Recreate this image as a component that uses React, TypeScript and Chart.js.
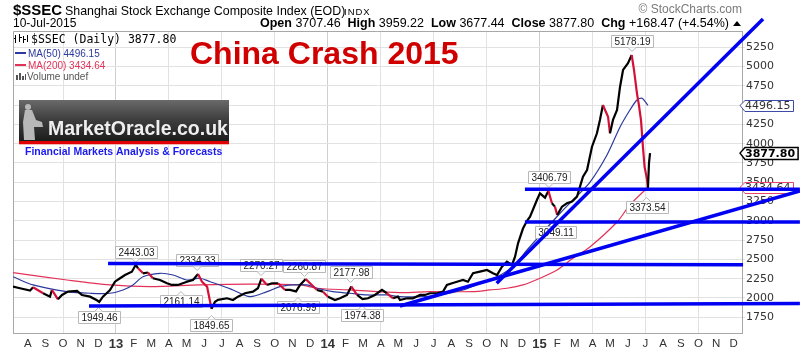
import React, { useEffect, useRef } from 'react';
import { Chart, registerables } from 'chart.js';

Chart.register(...registerables);

const FONT = "'Liberation Sans', Arial, Helvetica, sans-serif";
const VFONT = "'DejaVu Sans', Verdana, sans-serif";
const MFONT = "'DejaVu Sans Mono', monospace";

// x values are months counted from January 2012 (12 = Jan 2013, 24 = Jan 2014, 36 = Jan 2015)
const priceMonths = [
  6.16, 6.56, 7.13, 7.3, 7.87, 8.26, 8.37, 8.71, 8.94, 9.28, 9.79, 10.07, 10.53, 10.92, 11.05, 11.26,
  11.66, 11.94, 12.23, 12.51, 12.9, 13.12, 13.25, 13.53, 13.81, 14.09, 14.49, 14.89, 15.17, 15.51, 16.02,
  16.36, 16.65, 16.87, 17.16, 17.41, 17.61, 17.78, 18.29, 18.63, 18.91, 19.31, 19.76, 20.04, 20.24, 20.56,
  20.84, 21.18, 21.58, 21.86, 22.2, 22.43, 22.75, 23.1, 23.39, 23.73, 24.01, 24.41, 24.69, 25.09, 25.33,
  25.66, 25.97, 26.28, 26.67, 27.07, 27.35, 27.7, 27.98, 28.09, 28.49, 28.83, 29.23, 29.51, 29.79, 30.19,
  30.53, 30.75, 31.04, 31.32, 31.66, 31.94, 32.23, 32.62, 33.02, 33.36, 33.59, 33.87, 34.15, 34.44, 34.61,
  34.78, 35.06, 35.29, 35.46, 35.85, 36.02, 36.31, 36.5, 36.7, 36.87, 37.0, 37.27, 37.55, 37.84, 38.12,
  38.29, 38.46, 38.69, 38.97, 39.25, 39.42, 39.59, 39.71, 39.88, 39.99, 40.16, 40.39, 40.56, 40.73, 41.01,
  41.22, 41.35, 41.52, 41.63, 41.75, 41.86, 41.95, 42.08, 42.14, 42.2, 42.26,
];
const priceCloses = [
  2147, 2126, 2095, 2139, 2061, 2017, 2104, 1983, 2039, 2082, 2091, 2039, 2017, 1970, 1949, 2017,
  2104, 2211, 2256, 2298, 2341, 2430, 2385, 2320, 2330, 2256, 2233, 2191, 2169, 2169, 2211,
  2233, 2310, 2211, 2147, 1860, 1952, 1975, 1996, 1974, 2017, 2061, 2082, 2126, 2250, 2169,
  2191, 2191, 2104, 2104, 2085, 2169, 2245, 2169, 2104, 2082, 2017, 1974, 1996, 2039, 2150,
  2039, 1985, 1996, 2039, 2104, 2061, 1996, 2017, 1974, 1996, 1996, 2039, 2039, 2061, 2061,
  2082, 2169, 2191, 2211, 2233, 2211, 2320, 2341, 2363, 2320, 2298, 2406, 2471, 2428, 2536,
  2709, 2900, 3000, 3054, 3270, 3357, 3300, 3390, 3228, 3184, 3075, 3184, 3228, 3249, 3313,
  3443, 3573, 3659, 3961, 4135, 4308, 4502, 4437, 4350, 4135, 4308, 4437, 4739, 4956, 5043,
  5150, 4956, 4650, 4500, 4300, 3950, 3700, 3550, 3420, 3750, 3877.8,
];

const ma50Months = [
  6.16, 7.3, 9.22, 10.53, 11.66, 12.4, 12.96, 13.53, 14.49, 15.23, 16.02, 16.76, 17.33, 17.89, 18.63,
  19.59, 20.56, 21.29, 22.03, 22.82, 23.39, 24.29, 25.26, 26.22, 27.35, 28.09, 29.23, 30.36, 31.66,
  32.62, 33.59, 34.5, 35.29, 37.16, 37.89, 38.85, 39.82, 40.56, 41.12, 41.52, 41.8, 42.14,
];
const ma50Values = [
  2276, 2169, 2082, 2061, 2061, 2104, 2169, 2276, 2320, 2298, 2233, 2256, 2211, 2169, 2104,
  2017, 2082, 2147, 2169, 2169, 2126, 2082, 2061, 2039, 2039, 2017, 2017, 2039, 2104,
  2191, 2276, 2406, 2622, 3098, 3270, 3500, 3854, 4217, 4437, 4567, 4589, 4496.15,
];

const ma200Months = [
  6.16, 9.22, 11.66, 13.93, 16.76, 19.59, 22.43, 23.39, 25.26, 28.09, 29.79, 32.23, 33.19, 34.15,
  35.06, 36.02, 36.99, 37.89, 38.85, 40.39, 41.12, 42.14,
];
const ma200Values = [
  2328, 2233, 2169, 2147, 2170, 2180, 2169, 2126, 2104, 2069, 2082, 2082, 2104, 2126,
  2169, 2256, 2363, 2515, 2661, 2985, 3206, 3434.64,
];

const monthLetters = ['J', 'F', 'M', 'A', 'M', 'J', 'J', 'A', 'S', 'O', 'N', 'D'];
const yearMonths = [12, 24, 36];
const yearNames = ['13', '14', '15'];
const firstTickMonth = 7;
const lastTickMonth = 47;
const priceTicks = [1750, 2000, 2250, 2500, 2750, 3000, 3250, 3500, 3750, 4000, 4250, 4500, 4750, 5000, 5250];

const calloutMonths = [41.24, 13.12, 16.6, 15.68, 11.01, 17.41, 20.22, 22.68, 22.31, 25.29, 25.94, 36.53, 36.9, 42.06];
const calloutValues = [5178.19, 2443.03, 2334.33, 2161.14, 1949.46, 1849.65, 2270.27, 2260.87, 2076.99, 2177.98, 1974.38, 3406.79, 3049.11, 3373.54];
const calloutTexts = ['5178.19', '2443.03', '2334.33', '2161.14', '1949.46', '1849.65', '2270.27', '2260.87', '2076.99', '2177.98', '1974.38', '3406.79', '3049.11', '3373.54'];
const calloutAbove = [true, true, true, false, false, false, true, true, false, true, false, true, false, false];

const trendStartMonths = [11.55, 10.47, 35.17, 35.17, 28.09, 33.57];
const trendStartValues = [2447, 1896, 3409, 2985, 1896, 2190];
const trendEndMonths = [47.53, 50.75, 50.75, 50.75, 50.75, 48.66];
const trendEndValues = [2430, 1929, 3409, 2985, 3387, 5617];

const headerLabels = ['Open', 'High', 'Low', 'Close', 'Chg'];
const headerValues = ['3707.46', '3959.22', '3677.44', '3877.80', '+168.47 (+4.54%)'];
const lastClose = 3877.8;
const lastMa50 = 4496.15;
const lastMa200 = 3434.64;

const BLUE_MA = '#2b3a9e';
const RED_MA = '#e33259';
const TREND = '#0000f2';

function drawCallout(ctx: CanvasRenderingContext2D, px: number, py: number, text: string, above: boolean) {
  ctx.save();
  ctx.font = `10px ${FONT}`;
  const w = Math.round(ctx.measureText(text).width + 6);
  const h = 12;
  const bx = Math.round(px - w / 2);
  const by = Math.round(above ? py - 6 - h : py + 9);
  ctx.fillStyle = '#ffffff';
  ctx.strokeStyle = '#b8b8b8';
  ctx.lineWidth = 1;
  ctx.beginPath();
  ctx.rect(bx + 0.5, by + 0.5, w, h);
  ctx.fill();
  ctx.stroke();
  ctx.beginPath();
  if (above) {
    ctx.moveTo(px - 4, by + h + 0.5);
    ctx.lineTo(px, by + h + 4.5);
    ctx.lineTo(px + 4, by + h + 0.5);
  } else {
    ctx.moveTo(px - 4, by + 0.5);
    ctx.lineTo(px, by - 3.5);
    ctx.lineTo(px + 4, by + 0.5);
  }
  ctx.fill();
  ctx.stroke();
  ctx.fillStyle = '#222';
  ctx.textAlign = 'center';
  ctx.textBaseline = 'middle';
  ctx.fillText(text, bx + w / 2 + 0.5, by + h / 2 + 1);
  ctx.restore();
}

function drawAxisMarker(ctx: CanvasRenderingContext2D, x: number, y: number, text: string, border: string, bold: boolean) {
  ctx.save();
  ctx.font = `${bold ? 'bold ' : ''}11px ${VFONT}`;
  const w = ctx.measureText(text).width + 8;
  const h = bold ? 12 : 11;
  const top = Math.round(y - h / 2) + 0.5;
  ctx.beginPath();
  ctx.moveTo(x, y);
  ctx.lineTo(x + 5, top);
  ctx.lineTo(x + w, top);
  ctx.lineTo(x + w, top + h);
  ctx.lineTo(x + 5, top + h);
  ctx.closePath();
  ctx.fillStyle = '#fff';
  ctx.fill();
  ctx.strokeStyle = border;
  ctx.lineWidth = bold ? 1.5 : 1;
  ctx.stroke();
  ctx.fillStyle = bold ? '#000' : '#333';
  ctx.textBaseline = 'middle';
  ctx.fillText(text, x + 5, y + 1);
  ctx.restore();
}

function drawHeader(ctx: CanvasRenderingContext2D) {
  ctx.save();
  ctx.textBaseline = 'alphabetic';
  ctx.fillStyle = '#000';
  ctx.font = `bold 15px ${FONT}`;
  ctx.fillText('$SSEC', 13, 15);
  ctx.font = `12.4px ${FONT}`;
  ctx.fillText('Shanghai Stock Exchange Composite Index (EOD)', 65, 15);
  ctx.font = `9.5px ${FONT}`;
  (ctx as any).letterSpacing = '1px';
  ctx.fillText('INDX', 344, 15);
  (ctx as any).letterSpacing = '0px';
  ctx.font = `12px ${FONT}`;
  ctx.fillText('10-Jul-2015', 13, 27);

  // OHLC line, right aligned
  const parts: [string, boolean][] = [];
  headerLabels.forEach((l, i) => {
    parts.push([l + ' ', true]);
    parts.push([headerValues[i] + (i < headerLabels.length - 1 ? '  ' : ''), false]);
  });
  let total = 0;
  parts.forEach(([t, b]) => {
    ctx.font = `${b ? 'bold ' : ''}12.5px ${FONT}`;
    total += ctx.measureText(t).width;
  });
  let x = 729 - total;
  parts.forEach(([t, b]) => {
    ctx.font = `${b ? 'bold ' : ''}12.5px ${FONT}`;
    ctx.fillText(t, x, 27);
    x += ctx.measureText(t).width;
  });
  ctx.beginPath();
  ctx.moveTo(733, 26);
  ctx.lineTo(741, 26);
  ctx.lineTo(737, 21);
  ctx.closePath();
  ctx.fill();

  ctx.fillStyle = '#7a7a7a';
  ctx.font = `12px ${FONT}`;
  ctx.textAlign = 'right';
  ctx.fillText('\u00A9 StockCharts.com', 742, 13);
  ctx.restore();
}

function drawOverlay(ctx: CanvasRenderingContext2D) {
  ctx.save();
  // legend
  ctx.fillStyle = '#000';
  ctx.fillRect(15, 35, 1, 8);
  ctx.fillRect(19, 34, 1, 8);
  ctx.fillRect(23, 36, 1, 7);
  ctx.fillRect(27, 35, 1, 7);
  ctx.fillRect(14, 38, 2, 1);
  ctx.fillRect(20, 37, 2, 1);
  ctx.fillRect(24, 39, 2, 1);
  ctx.font = `11.5px ${MFONT}`;
  ctx.fillText('$SSEC (Daily) 3877.80', 31, 42.5);
  ctx.font = `10px ${FONT}`;
  ctx.fillStyle = BLUE_MA;
  ctx.fillRect(15, 52, 11, 2);
  ctx.fillText('MA(50) 4496.15', 28, 57);
  ctx.fillStyle = RED_MA;
  ctx.fillRect(15, 64, 11, 2);
  ctx.fillText('MA(200) 3434.64', 28, 69);
  ctx.fillStyle = '#555';
  ctx.fillRect(16, 75, 2, 5);
  ctx.fillRect(19, 73, 2, 7);
  ctx.fillRect(22, 76, 2, 4);
  ctx.fillRect(25, 74, 1, 6);
  ctx.fillText('Volume undef', 27, 80);

  // title
  ctx.fillStyle = '#d10000';
  ctx.font = `bold 32px ${FONT}`;
  ctx.fillText('China Crash 2015', 190, 64);

  // logo
  const g = ctx.createLinearGradient(0, 100, 0, 141);
  g.addColorStop(0, '#6a6a6a');
  g.addColorStop(0.45, '#404040');
  g.addColorStop(1, '#1c1c1c');
  ctx.fillStyle = g;
  ctx.fillRect(19, 100, 210, 41);
  ctx.fillStyle = '#e00000';
  ctx.fillRect(19, 141, 210, 3);
  ctx.fillStyle = '#f3b5b5';
  ctx.fillRect(19, 144, 210, 1);
  // statue silhouette
  ctx.fillStyle = '#b8b8b8';
  ctx.beginPath();
  ctx.arc(28, 107, 3, 0, Math.PI * 2);
  ctx.fill();
  ctx.beginPath();
  ctx.moveTo(25, 110);
  ctx.lineTo(32, 110);
  ctx.lineTo(36, 120);
  ctx.lineTo(42, 122);
  ctx.lineTo(43, 127);
  ctx.lineTo(34, 127);
  ctx.lineTo(35, 140);
  ctx.lineTo(24, 140);
  ctx.lineTo(23, 122);
  ctx.closePath();
  ctx.fill();
  ctx.fillStyle = '#efefef';
  ctx.font = `bold 19.5px ${FONT}`;
  ctx.fillText('MarketOracle.co.uk', 48, 135);
  ctx.fillStyle = '#1a1af0';
  ctx.font = `bold 10.5px ${FONT}`;
  ctx.fillText('Financial Markets Analysis & Forecasts', 25, 155);
  ctx.restore();
}

export default function App() {
  const canvasRef = useRef<HTMLCanvasElement | null>(null);

  useEffect(() => {
    const canvas = canvasRef.current;
    if (!canvas) return;

    const pricePoints = priceMonths.map((m, i) => ({ x: m, y: priceCloses[i] }));
    const ma50Points = ma50Months.map((m, i) => ({ x: m, y: ma50Values[i] }));
    const ma200Points = ma200Months.map((m, i) => ({ x: m, y: ma200Values[i] }));

    const trendSets = trendStartMonths.map((m, i) => ({
      label: 'trend' + i,
      data: [
        { x: m, y: trendStartValues[i] },
        { x: trendEndMonths[i], y: trendEndValues[i] },
      ],
      borderColor: TREND,
      borderWidth: 3.5,
      pointRadius: 0,
      clip: false as any,
      order: 0,
      borderCapStyle: 'butt' as const,
    }));

    const PRICE_INDEX = 0;

    const decorPlugin = {
      id: 'decor',
      beforeDatasetsDraw(chart: any) {
        const { ctx, chartArea } = chart;
        ctx.save();
        ctx.strokeStyle = '#a8a8a8';
        ctx.lineWidth = 1;
        ctx.beginPath();
        ctx.moveTo(chartArea.left + 0.5, chartArea.bottom);
        ctx.lineTo(chartArea.left + 0.5, chartArea.top + 0.5);
        ctx.lineTo(chartArea.right, chartArea.top + 0.5);
        ctx.stroke();
        ctx.restore();
        drawOverlay(ctx);
        drawHeader(ctx);
      },
      afterDatasetDraw(chart: any, args: any) {
        if (args.index !== PRICE_INDEX) return;
        const { ctx } = chart;
        const xs = chart.scales.x;
        const ys = chart.scales.y;
        calloutMonths.forEach((m, i) => {
          drawCallout(ctx, xs.getPixelForValue(m), ys.getPixelForValue(calloutValues[i]), calloutTexts[i], calloutAbove[i]);
        });
        const ax = chart.chartArea.right - 2;
        drawAxisMarker(ctx, ax, ys.getPixelForValue(lastMa50), lastMa50.toFixed(2), '#3d4aa6', false);
        drawAxisMarker(ctx, ax, ys.getPixelForValue(lastClose), lastClose.toFixed(2), '#000', true);
        drawAxisMarker(ctx, ax, ys.getPixelForValue(lastMa200), lastMa200.toFixed(2), '#e8456a', false);
      },
    };

    const chart = new Chart(canvas, {
      type: 'line',
      data: {
        datasets: [
          {
            label: '$SSEC',
            data: pricePoints,
            borderColor: '#000',
            borderWidth: 2.2,
            pointRadius: 0,
            order: 1,
            borderJoinStyle: 'miter',
            segment: {
              borderColor: (c: any) => (c.p1.parsed.y < c.p0.parsed.y - 60 ? '#d41038' : '#000'),
            },
          },
          {
            label: 'MA(50)',
            data: ma50Points,
            borderColor: BLUE_MA,
            borderWidth: 1.2,
            pointRadius: 0,
            tension: 0.3,
            order: 2,
          },
          {
            label: 'MA(200)',
            data: ma200Points,
            borderColor: RED_MA,
            borderWidth: 1.2,
            pointRadius: 0,
            tension: 0.3,
            order: 3,
          },
          ...trendSets,
        ] as any,
      },
      options: {
        animation: false,
        responsive: false,
        events: [],
        layout: { padding: { left: 13, top: 31, right: 0, bottom: 0 } },
        plugins: { legend: { display: false }, tooltip: { enabled: false } },
        scales: {
          x: {
            type: 'linear',
            min: 6.164,
            max: 47.47,
            afterBuildTicks: (scale: any) => {
              const t = [];
              for (let m = firstTickMonth; m <= lastTickMonth; m++) t.push({ value: m });
              scale.ticks = t;
            },
            afterFit: (scale: any) => {
              scale.height = 21;
            },
            grid: {
              drawTicks: false,
              color: (c: any) => {
                const v = Math.round(c.tick ? c.tick.value : 0);
                if (v % 12 === 0) return '#cfcfcf';
                return v % 3 === 0 ? '#e2e2e2' : 'rgba(0,0,0,0)';
              },
            },
            border: { display: true, color: '#a8a8a8' },
            ticks: {
              autoSkip: false,
              maxRotation: 0,
              padding: 4,
              color: '#333',
              font: (c: any) => {
                const v = Math.round(c.tick ? c.tick.value : 0);
                return v % 12 === 0
                  ? { family: FONT, size: 13, weight: 'bold' }
                  : { family: FONT, size: 11.5 };
              },
              callback: (value: any) => {
                const m = Math.round(Number(value));
                const yi = yearMonths.indexOf(m);
                if (yi >= 0) return yearNames[yi];
                return monthLetters[((m % 12) + 12) % 12];
              },
            },
          },
          y: {
            type: 'linear',
            position: 'right',
            min: 1546,
            max: 5461,
            afterBuildTicks: (scale: any) => {
              scale.ticks = priceTicks.map((v) => ({ value: v }));
            },
            afterFit: (scale: any) => {
              scale.width = 58;
            },
            grid: { color: '#e2e2e2', tickLength: 3 },
            border: { display: true, color: '#a8a8a8' },
            ticks: {
              padding: 1,
              color: '#333',
              font: { family: VFONT, size: 11 },
              callback: (value: any) => String(value),
            },
          },
        },
      } as any,
      plugins: [decorPlugin],
    });

    return () => chart.destroy();
  }, []);

  return (
    <div style={{ position: 'absolute', left: 0, top: 0, width: 800, height: 354, background: '#fff' }}>
      <canvas ref={canvasRef} width={800} height={354} style={{ display: 'block' }} />
    </div>
  );
}
